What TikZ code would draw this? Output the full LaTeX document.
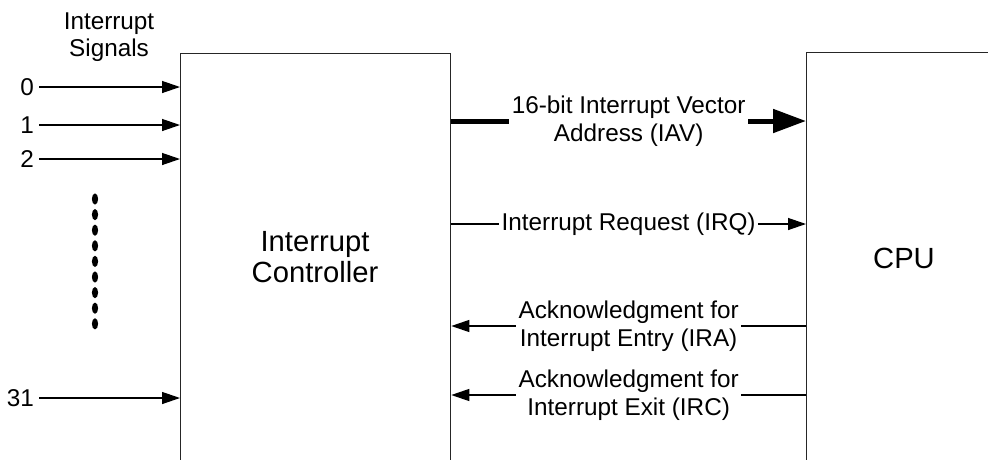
\documentclass[tikz,border=0pt]{standalone}
\usepackage{fontspec}
\setmainfont{Liberation Sans}
\usetikzlibrary{arrows.meta}
\begin{document}
\begin{tikzpicture}[x=1pt,y=-1pt,
  box/.style={draw=black!85, line width=1.3pt, anchor=north west, inner sep=0pt},
  lbl/.style={font=\fontsize{24.3}{27.5}\selectfont, align=center},
  big/.style={font=\fontsize{29.2}{31.5}\selectfont, align=center},
  sig/.style={line width=1.3pt, -{Triangle[length=18pt,width=12pt]}},
  bus/.style={line width=5pt, -{Triangle[length=33pt,width=23pt]}},
  onln/.style={lbl, fill=white, inner xsep=2.5pt, inner ysep=1pt},
  num/.style={lbl, anchor=east, inner ysep=2pt, inner xsep=5pt}
]
\useasboundingbox (0,0) rectangle (988,459);
\clip (0,0) rectangle (988,459);
\fill[white] (0,0) rectangle (988,459);

% blocks
\node[box, minimum width=270pt, minimum height=460pt] (ctrl) at (180,53) {};
\node[box, minimum width=260pt, minimum height=460pt] (cpu) at (806,52) {};
\node[big] (ctrltext) at (315,257) {Interrupt\\Controller};
\node[big] (cputext) at (904,258) {CPU};

% interrupt inputs
\node[lbl] (sigtitle) at (109,37) {Interrupt\\Signals};
\node[num] (n0) at (39,87) {0};
\node[num] (n1) at (39,125) {1};
\node[num] (n2) at (39,159) {2};
\node[num] (n31) at (39,398) {31};
\foreach \n in {n0,n1,n2,n31}
  \draw[sig] (\n.east) -- (\n.east -| ctrl.west);
\foreach \i in {0,...,8}
  \fill (95,199+15.6*\i) ellipse (3.1pt and 5.6pt);

% controller <-> CPU
\coordinate (yiav) at (0,121);
\coordinate (yirq) at (0,224);
\coordinate (yira) at (0,326);
\coordinate (yirc) at (0,395);
\draw[bus] (ctrl.east |- yiav) -- node[onln] (iav) {16-bit Interrupt Vector\\Address (IAV)} (cpu.west |- yiav);
\draw[sig] (ctrl.east |- yirq) -- node[onln] (irq) {Interrupt Request (IRQ)} (cpu.west |- yirq);
\draw[sig] (cpu.west |- yira) -- node[onln] (ira) {Acknowledgment for\\Interrupt Entry (IRA)} (ctrl.east |- yira);
\draw[sig] (cpu.west |- yirc) -- node[onln] (irc) {Acknowledgment for\\Interrupt Exit (IRC)} (ctrl.east |- yirc);
\end{tikzpicture}
\end{document}
